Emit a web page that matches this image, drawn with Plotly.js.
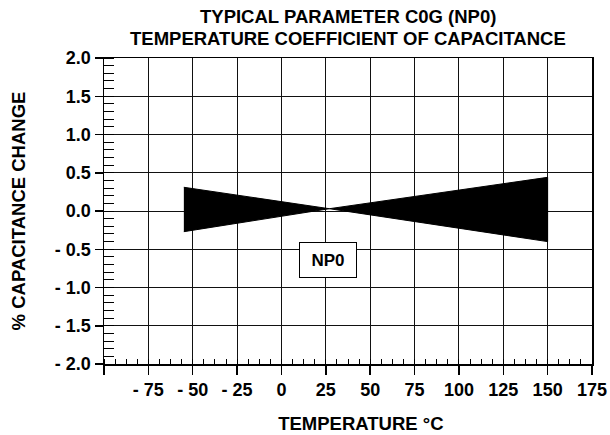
<!DOCTYPE html>
<html>
<head>
<meta charset="utf-8">
<script src="https://cdn.plot.ly/plotly-3.0.1.min.js"></script>
<style>html,body{margin:0;padding:0;background:#fff;}#chart{width:610px;height:435px;}</style>
</head>
<body>
<div id="chart"></div>
<script>
// Temperature (°C) and % capacitance change along the edges of the NP0 band
const upperTemp = [-55, 27, 150];
const upperChange = [0.31, 0.03, 0.44];
const lowerTemp = [150, 27, -55];
const lowerChange = [-0.40, 0.03, -0.27];

const xTickVals = [-100, -75, -50, -25, 0, 25, 50, 75, 100, 125, 150, 175];
const xTickText = ["", "- 75", "- 50", "- 25", "0", "25", "50", "75", "100", "125", "150", "175"];
const yTickVals = [2, 1.5, 1, 0.5, 0, -0.5, -1, -1.5, -2];
const yTickText = ["2.0", "1.5", "1.0", "0.5", "0.0", "- 0.5", "- 1.0", "- 1.5", "- 2.0"];

const titleLines = ["TYPICAL PARAMETER C0G (NP0)", "TEMPERATURE COEFFICIENT OF CAPACITANCE"];
const seriesLabel = "NP0";

const FONT = '"Liberation Sans", Arial, Helvetica, sans-serif';

const band = {
  type: 'scatter',
  mode: 'lines',
  x: upperTemp.concat(lowerTemp),
  y: upperChange.concat(lowerChange),
  fill: 'toself',
  fillcolor: '#000',
  line: {color: '#000', width: 1},
  hoverinfo: 'skip',
  showlegend: false
};

const layout = {
  width: 610,
  height: 435,
  margin: {l: 104, r: 18, t: 58, b: 71},
  paper_bgcolor: '#fff',
  plot_bgcolor: '#fff',
  font: {family: FONT, color: '#000'},
  showlegend: false,
  xaxis: {
    range: [-100, 175],
    tickmode: 'array',
    tickvals: xTickVals,
    ticktext: xTickText,
    ticks: 'outside',
    ticklen: 9,
    tickwidth: 1.5,
    tickcolor: '#000',
    tickfont: {family: FONT, size: 18, color: '#000', weight: 'bold'},
    showgrid: true,
    gridcolor: '#111',
    gridwidth: 1,
    zeroline: false,
    showline: true,
    linecolor: '#000',
    linewidth: 1.5,
    mirror: true,
    minor: {dtick: 6.25, tick0: -100, ticks: 'inside', ticklen: 5, tickcolor: '#000', tickwidth: 1, showgrid: false},
    title: {text: '&nbsp;&nbsp;&nbsp;&nbsp;&nbsp;TEMPERATURE °C', font: {family: FONT, size: 18.5, color: '#000', weight: 'bold'}, standoff: 18},
    fixedrange: true
  },
  yaxis: {
    range: [-2, 2],
    tickmode: 'array',
    tickvals: yTickVals,
    ticktext: yTickText,
    ticks: 'outside',
    ticklen: 8,
    tickwidth: 1.5,
    tickcolor: '#000',
    tickfont: {family: FONT, size: 18, color: '#000', weight: 'bold'},
    showgrid: true,
    gridcolor: '#111',
    gridwidth: 1,
    zeroline: false,
    showline: true,
    linecolor: '#000',
    linewidth: 1.5,
    mirror: true,
    minor: {dtick: 0.1, tick0: 0, ticks: 'inside', ticklen: 10, tickcolor: '#000', tickwidth: 1, showgrid: false},
    title: {text: '% CAPACITANCE CHANGE', font: {family: FONT, size: 18.5, color: '#000', weight: 'bold'}, standoff: 24},
    fixedrange: true
  },
  annotations: [
    {xref: 'paper', yref: 'paper', x: 0.5, y: 1.136, xanchor: 'center', yanchor: 'middle',
     text: '<b>' + titleLines[0] + '</b>', showarrow: false,
     font: {family: FONT, size: 18.5, color: '#000'}},
    {xref: 'paper', yref: 'paper', x: 0.5, y: 1.065, xanchor: 'center', yanchor: 'middle',
     text: '<b>' + titleLines[1] + '</b>', showarrow: false,
     font: {family: FONT, size: 18.5, color: '#000'}},
    {xref: 'x', yref: 'y', x: 26.3, y: -0.64, xanchor: 'center', yanchor: 'middle',
     text: '<b>' + seriesLabel + '</b>', showarrow: false,
     font: {family: FONT, size: 17, color: '#000'},
     bgcolor: '#fff', bordercolor: '#000', borderwidth: 1, borderpad: 1, width: 54, height: 32}
  ]
};

Plotly.newPlot('chart', [band], layout, {displayModeBar: false, staticPlot: true});
</script>
</body>
</html>
